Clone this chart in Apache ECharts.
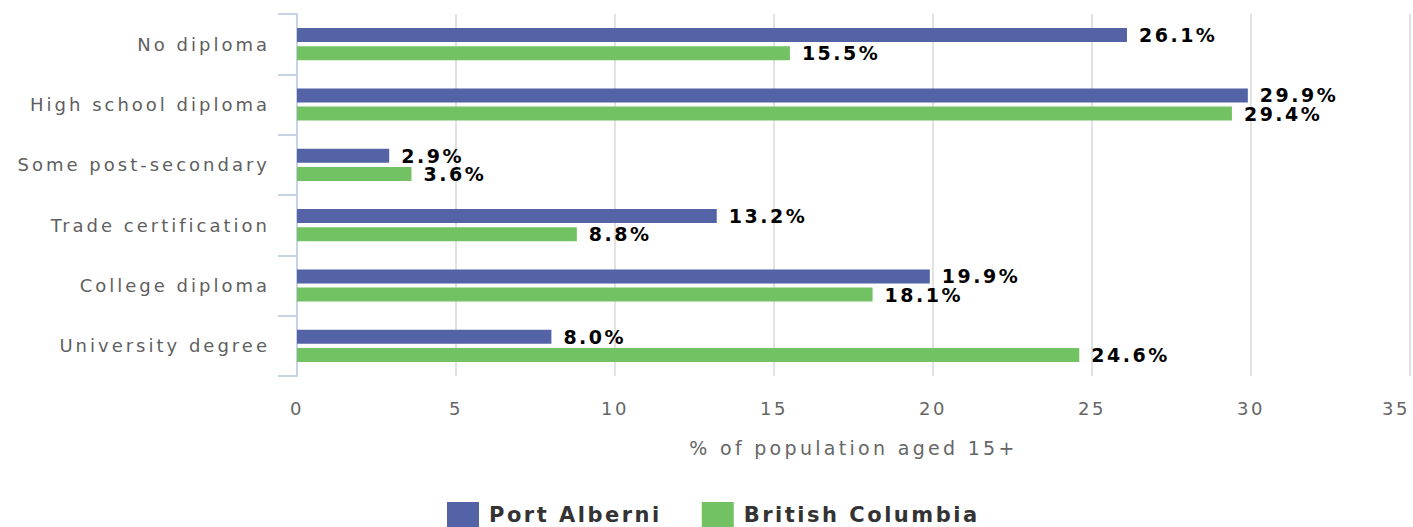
<!DOCTYPE html>
<html>
<head>
<meta charset="utf-8">
<script src="https://cdn.jsdelivr.net/npm/echarts@6/dist/echarts.min.js"></script>
<style>
  html, body { margin: 0; padding: 0; background: #fff; }
  #chart { width: 1413px; height: 527px; }
  #chart text { letter-spacing: 2.5px; }
</style>
</head>
<body>
<div id="chart"></div>
<script>
const categories = ['No diploma', 'High school diploma', 'Some post-secondary', 'Trade certification', 'College diploma', 'University degree'];
const portAlberni = [26.1, 29.9, 2.9, 13.2, 19.9, 8.0];
const britishColumbia = [15.5, 29.4, 3.6, 8.8, 18.1, 24.6];
const seriesNames = ['Port Alberni', 'British Columbia'];
const xTicks = { min: 0, max: 35, interval: 5 };
const axisTitle = '% of population aged 15+';

const FONT = 'DejaVu Sans';
const chart = echarts.init(document.getElementById('chart'), null, { renderer: 'svg' });

const labelCfg = {
  show: true,
  position: 'right',
  distance: 12,
  color: '#000',
  fontFamily: FONT,
  fontWeight: 'bold',
  fontSize: 19,
  formatter: p => p.value.toFixed(1) + '%'
};

chart.setOption({
  animation: false,
  grid: { left: 297, right: 3, top: 14, bottom: 151, containLabel: false, outerBoundsMode: 'none' },
  legend: {
    data: seriesNames,
    left: 447,
    bottom: 0,
    itemWidth: 32,
    itemHeight: 25,
    itemGap: 70,
    icon: 'rect',
    textStyle: { fontFamily: FONT, fontWeight: 'bold', fontSize: 21, color: '#333', padding: [0, 0, 0, 5] },
    padding: 0
  },
  xAxis: {
    type: 'value',
    min: xTicks.min, max: xTicks.max, interval: xTicks.interval,
    name: axisTitle,
    nameLocation: 'middle',
    nameGap: 62,
    nameTextStyle: { fontFamily: FONT, fontSize: 19, color: '#666' },
    axisLine: { show: false },
    axisTick: { show: false },
    axisLabel: { fontFamily: FONT, fontSize: 18, color: '#666', margin: 23, alignMaxLabel: 'right' },
    splitLine: { show: true, lineStyle: { color: '#d9d9d9', width: 1.5 } }
  },
  yAxis: {
    type: 'category',
    data: categories,
    inverse: true,
    axisLine: { show: true, lineStyle: { color: '#c6d3e6', width: 2 } },
    axisTick: { show: true, length: 19, lineStyle: { color: '#c6d3e6', width: 2 } },
    axisLabel: { fontFamily: FONT, fontSize: 18, color: '#5f5f5f', margin: 27 },
    splitLine: { show: false }
  },
  series: [
    {
      name: seriesNames[0], type: 'bar', data: portAlberni,
      barWidth: 14, barGap: '30%',
      itemStyle: { color: '#5363a6' },
      label: labelCfg
    },
    {
      name: seriesNames[1], type: 'bar', data: britishColumbia,
      barWidth: 14, barGap: '30%',
      itemStyle: { color: '#72c162' },
      label: labelCfg
    }
  ]
});

// per-text letter spacing (visual only)
document.querySelectorAll('#chart text').forEach(t => {
  const s = t.textContent;
  if (categories.includes(s)) t.style.letterSpacing = '3px';
  else if (s === axisTitle) t.style.letterSpacing = '3.3px';
});
</script>
</body>
</html>
